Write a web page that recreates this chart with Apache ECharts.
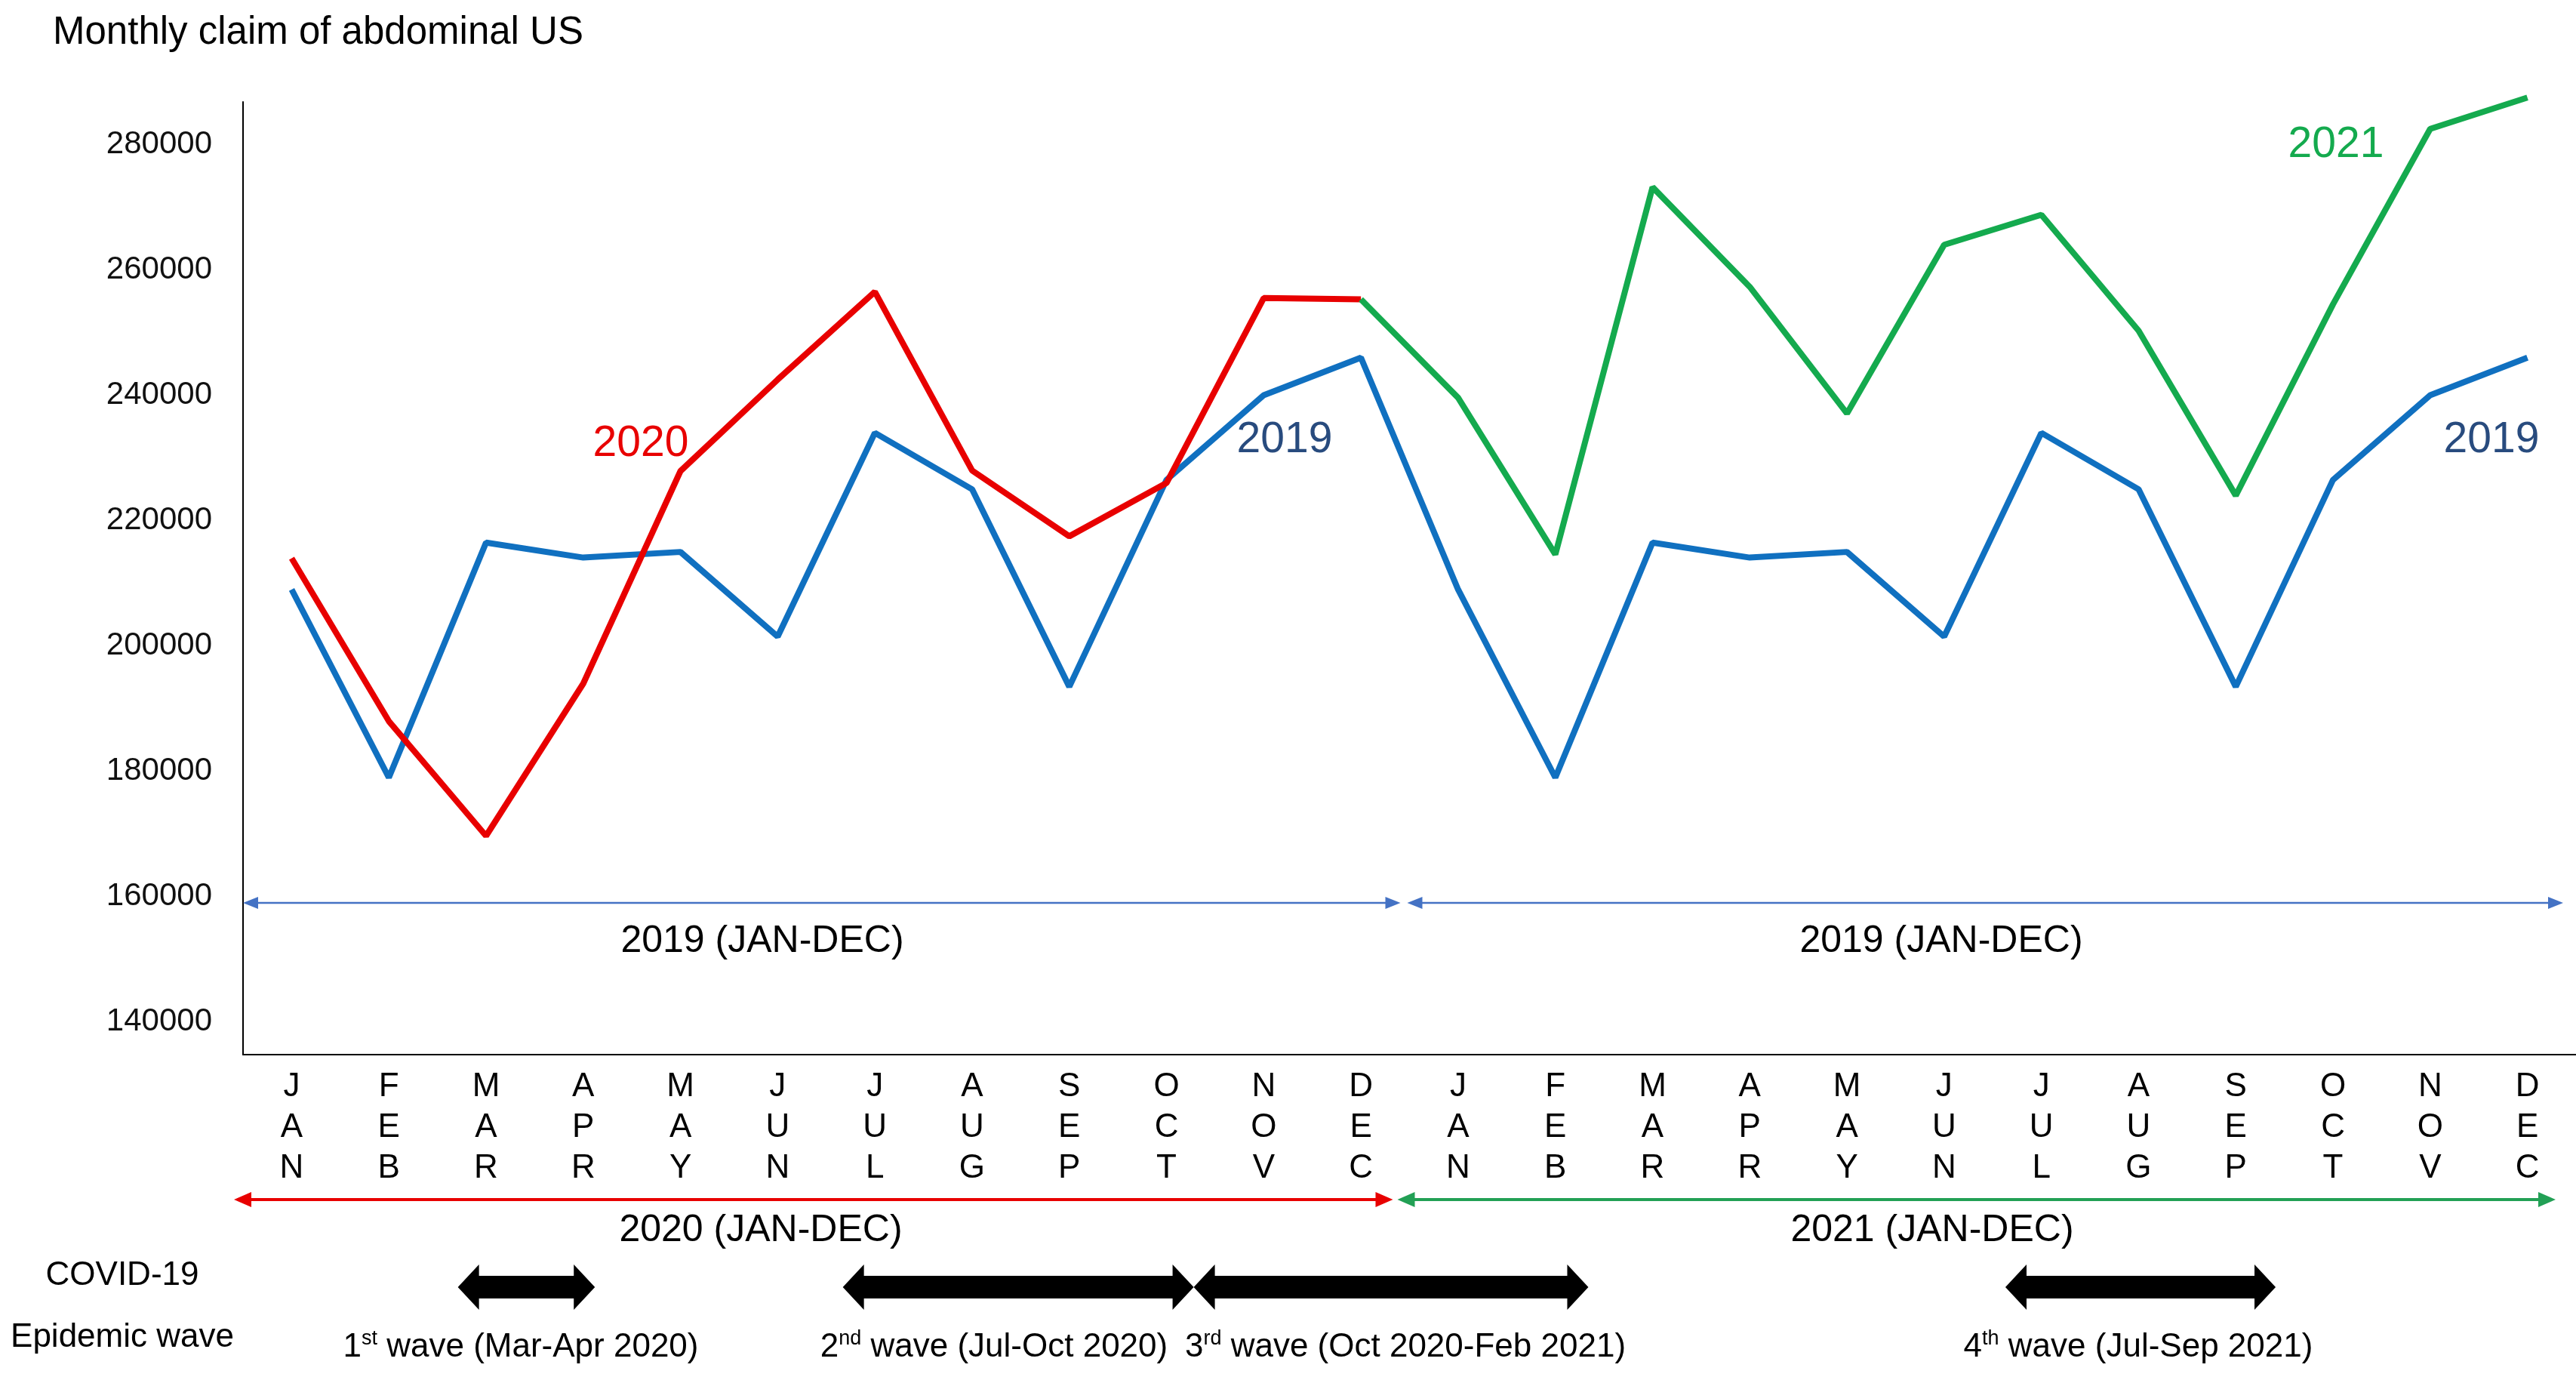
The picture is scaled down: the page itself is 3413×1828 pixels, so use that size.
<!DOCTYPE html>
<html><head><meta charset="utf-8">
<script src="https://cdn.jsdelivr.net/npm/echarts@6/dist/echarts.min.js"></script>
<style>html,body{margin:0;padding:0;background:#fff}#c{width:3413px;height:1828px}</style>
</head><body><div id="c"></div>
<script>
// ---------- DATA ----------
const months = ['JAN','FEB','MAR','APR','MAY','JUN','JUL','AUG','SEP','OCT','NOV','DEC'];
const axisYears = ['2020','2021'];
const claims2019 = [209000,179000,216500,214100,215000,201500,234000,225000,193500,226500,240000,246000];
const claims2020 = [214000,188000,169700,194000,227900,242500,256500,228000,217500,226000,255500,255300];
const claims2021 = [239600,214600,273200,257300,237100,264000,268800,250300,224000,254500,282500,287500];
const yTicks = [140000,160000,180000,200000,220000,240000,260000,280000];
const titleText = 'Monthly claim of abdominal US';
const periodText2019 = '2019 (JAN-DEC)';
const periodTexts = ['2020 (JAN-DEC)','2021 (JAN-DEC)'];
const waveOrd = ['1','2','3','4'];
const waveSup = ['st','nd','rd','th'];
const waveNames = [' wave (Mar-Apr 2020)',' wave (Jul-Oct 2020)',' wave (Oct 2020-Feb 2021)',' wave (Jul-Sep 2021)'];
// wave spans in month-index units (0 = Jan 2020)
const waveSpans = [[1.71,3.12],[5.67,9.28],[9.28,13.34],[17.63,20.41]];

// ---------- BUILD ----------
const FONT = '"Liberation Sans", Arial, sans-serif';
const categories = [];
axisYears.forEach(y => months.forEach(m => categories.push(y + '-' + m)));
const s2019 = claims2019.concat(claims2019);
const s2020 = claims2020.concat(new Array(12).fill(null));
const s2021 = new Array(11).fill(null).concat([claims2020[11]]).concat(claims2021);

const BLUE = '#1070C0', RED = '#E80000', GREEN = '#14AA4E', NAVY = '#284B7E';

const chart = echarts.init(document.getElementById('c'), null, {renderer: 'canvas'});
chart.setOption({
  backgroundColor: '#fff',
  animation: false,
  textStyle: {fontFamily: FONT},
  title: {
    text: titleText, left: 65, top: 13,
    textStyle: {fontFamily: FONT, fontSize: 51, fontWeight: 'normal', color: '#000', lineHeight: 52}
  },
  grid: {left: 322, right: 0, top: 135, bottom: 431, containLabel: false},
  xAxis: {
    type: 'category', data: categories, boundaryGap: true,
    axisLine: {show: true, lineStyle: {color: '#000', width: 2}},
    axisTick: {show: false},
    axisLabel: {
      interval: 0, margin: 16, fontSize: 44, lineHeight: 54, color: '#000', fontFamily: FONT,
      formatter: v => v.split('-')[1].split('').join('\n')
    },
    splitLine: {show: false}
  },
  yAxis: {
    type: 'value', min: 134800, max: 286800,
    axisLine: {show: true, lineStyle: {color: '#000', width: 2}},
    axisTick: {show: false},
    splitLine: {show: false},
    axisLabel: {customValues: yTicks, fontSize: 42, color: '#111', margin: 41, fontFamily: FONT,
      formatter: v => String(v)}
  },
  series: [
    {name: '2019', type: 'line', data: s2019, showSymbol: false, clip: false,
     lineStyle: {color: BLUE, width: 8}, itemStyle: {color: BLUE}, z: 2},
    {name: '2020', type: 'line', data: s2020, showSymbol: false, clip: false,
     lineStyle: {color: RED, width: 8}, itemStyle: {color: RED}, z: 3},
    {name: '2021', type: 'line', data: s2021, showSymbol: false, clip: false,
     lineStyle: {color: GREEN, width: 8}, itemStyle: {color: GREEN}, z: 3}
  ]
});

// ---------- ANNOTATIONS ----------
const px = i => chart.convertToPixel({xAxisIndex: 0}, i);
const py = v => chart.convertToPixel({yAxisIndex: 0}, v);
const catW = px(1) - px(0);
const bnd = i => px(0) + (i - 0.5) * catW;      // left boundary of category i
const pos = f => px(0) + f * catW;               // fractional month index -> pixel

const G = [];
function text(x, y, t, size, color, extra) {
  G.push(Object.assign({type: 'text', x: x, y: y, z: 10,
    style: Object.assign({text: t, fill: color, fontSize: size, fontFamily: FONT, align: 'center', verticalAlign: 'middle'}, extra || {})}));
}
function arrow(x1, x2, y, color, lw, hl, hh, headStart, headEnd) {
  const a = headStart ? x1 + hl - 2 : x1, b = headEnd ? x2 - hl + 2 : x2;
  G.push({type: 'line', z: 10, shape: {x1: a, y1: y, x2: b, y2: y}, style: {stroke: color, lineWidth: lw}});
  if (headStart) G.push({type: 'polygon', z: 10, shape: {points: [[x1, y], [x1 + hl, y - hh], [x1 + hl, y + hh]]}, style: {fill: color}});
  if (headEnd) G.push({type: 'polygon', z: 10, shape: {points: [[x2, y], [x2 - hl, y - hh], [x2 - hl, y + hh]]}, style: {fill: color}});
}
function fatArrow(x1, x2, y) {
  const hl = 28, hh = 30, bh = 15;
  G.push({type: 'polygon', z: 10, shape: {points: [
    [x1, y], [x1 + hl, y - hh], [x1 + hl, y - bh], [x2 - hl, y - bh], [x2 - hl, y - hh],
    [x2, y], [x2 - hl, y + hh], [x2 - hl, y + bh], [x1 + hl, y + bh], [x1 + hl, y + hh]
  ]}, style: {fill: '#000'}});
}

// series labels
text(849, 588, '2020', 57, RED);
text(1702, 583, '2019', 57, NAVY);
text(3095, 192, '2021', 57, GREEN);
text(3301, 583, '2019', 57, NAVY);

// blue 2019 reference arrows inside plot
const yBlue = py(159000);
arrow(bnd(0), bnd(12) - 12, yBlue, '#4472C4', 2.5, 20, 8, true, true);
arrow(bnd(12) - 3, bnd(24) - 17, yBlue, '#4472C4', 2.5, 20, 8, true, true);
text(1010, 1247, periodText2019, 50, '#000');
text(2572, 1247, periodText2019, 50, '#000');

// red / green year arrows below axis
arrow(bnd(0) - 12, bnd(12) - 22, 1589, RED, 4, 23, 10, true, true);
arrow(bnd(12) - 16, bnd(24) - 27, 1589, '#22A055', 4, 23, 10, true, true);
text(1008, 1630, periodTexts[0], 50, '#000');
text(2560, 1630, periodTexts[1], 50, '#000');

// COVID waves
text(162, 1690, 'COVID-19', 44, '#000');
text(162, 1772, 'Epidemic wave', 44, '#000');
waveSpans.forEach(s => fatArrow(pos(s[0]), pos(s[1]), 1705));
const waveLabelX = [690, 1317, 1862, 2833];
waveOrd.forEach((o, k) => {
  G.push({type: 'text', x: waveLabelX[k], y: 1785, z: 10, style: {
    text: '{a|' + o + '}{s|' + waveSup[k] + '}{a|' + waveNames[k] + '}',
    align: 'center', verticalAlign: 'middle', fontFamily: FONT,
    rich: {
      a: {fontSize: 44, lineHeight: 50, fill: '#000', fontFamily: FONT},
      s: {fontSize: 27, lineHeight: 30, fill: '#000', verticalAlign: 'top', fontFamily: FONT}
    }
  }});
});

chart.setOption({graphic: G});
</script>
</body></html>
